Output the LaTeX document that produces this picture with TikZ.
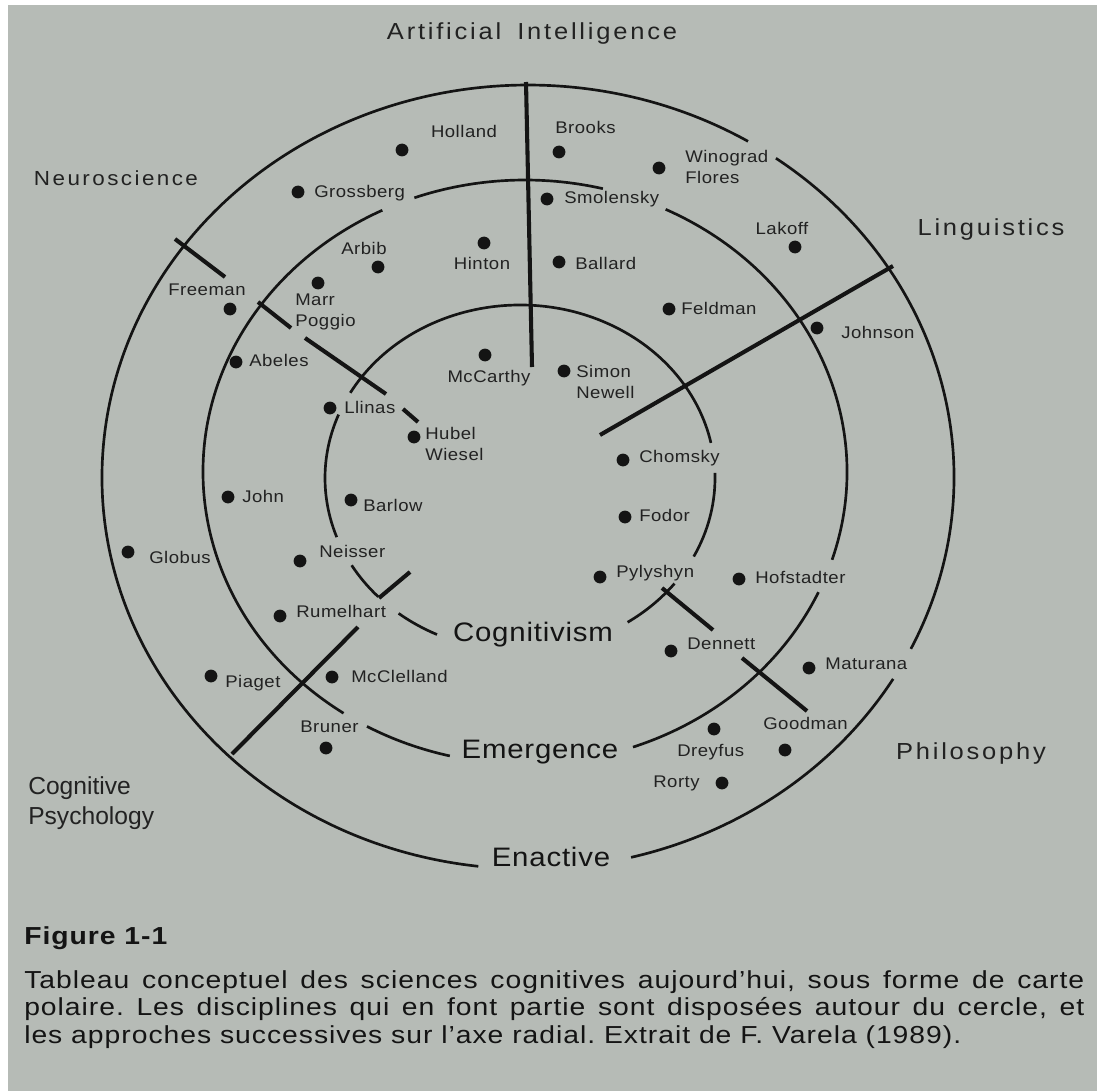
\documentclass[tikz,border=0pt]{standalone}
\usepackage{fontspec}
\setmainfont{Liberation Sans}
\newfontfamily\mapfont[FakeStretch=1.1,LetterSpace=3]{Liberation Sans}
\newfontfamily\discfont[FakeStretch=1.1,LetterSpace=12]{Liberation Sans}
\newfontfamily\capfont[FakeStretch=1.15,LetterSpace=4]{Liberation Sans}
\usepackage{xcolor}
\definecolor{paper}{RGB}{182,187,182}
\definecolor{ink}{RGB}{20,20,20}
\definecolor{lab}{RGB}{34,34,34}
\frenchspacing

\begin{document}
\begin{tikzpicture}[
    x=0.25mm, y=-0.25mm,
    ring/.style={draw=ink, line width=1.9pt},
    spoke/.style={draw=ink, line width=2.9pt},
    spot/.style={circle, fill=ink, inner sep=0pt, minimum size=3.2mm},
    who/.style={font=\mapfont\fontsize{12}{15}\selectfont, text=lab, inner sep=0pt, align=left, anchor=west},
    whoc/.style={font=\mapfont\fontsize{12}{15}\selectfont, text=lab, inner sep=0pt},
    field/.style={font=\discfont\fontsize{16.5}{20}\selectfont, text=lab, inner sep=0pt},
    stage/.style={font=\mapfont\fontsize{19}{23}\selectfont, text=ink, inner sep=0pt},
    capt/.style={font=\capfont\fontsize{17.5}{19.6}\selectfont, text=ink, inner sep=0pt}
]
% ============================================================
% PAGE
% ============================================================
\fill[paper] (0,0) rectangle (1097,1091);
\fill[white] (0,0) rectangle (1097,5);
\fill[white] (0,0) rectangle (8,1091);
\useasboundingbox (0,0) rectangle (1097,1091);

% ============================================================
% RINGS — broken where a label sits on them
% ============================================================
\coordinate (cOut) at (528,477);
\coordinate (cMid) at (525,472);
\coordinate (cIn)  at (520,478);

% enactive ring
\draw[ring] (cOut) ++(-54.4:426 and 392) arc[start angle=-54.4, end angle=26, x radius=426, y radius=392];
\draw[ring] (cOut) ++(31:426 and 392) arc[start angle=31, end angle=76, x radius=426, y radius=392];
\draw[ring] (cOut) ++(96.7:426 and 392) arc[start angle=96.7, end angle=301.1, x radius=426, y radius=392];

% emergence ring
\draw[ring] (cMid) ++(-64.1:322 and 292) arc[start angle=-64.1, end angle=17.5, x radius=322, y radius=292];
\draw[ring] (cMid) ++(24.3:322 and 292) arc[start angle=24.3, end angle=70.4, x radius=322, y radius=292];
\draw[ring] (cMid) ++(103.5:322 and 292) arc[start angle=103.5, end angle=119.4, x radius=322, y radius=292];
\draw[ring] (cMid) ++(124.3:322 and 292) arc[start angle=124.3, end angle=243.7, x radius=322, y radius=292];
\draw[ring] (cMid) ++(249.9:322 and 292) arc[start angle=249.9, end angle=284, x radius=322, y radius=292];

% cognitivism ring
\draw[ring] (cIn) ++(-1.7:195 and 173) arc[start angle=-1.7, end angle=27, x radius=195, y radius=173];
\draw[ring] (cIn) ++(37.6:195 and 173) arc[start angle=37.6, end angle=56.5, x radius=195, y radius=173];
\draw[ring] (cIn) ++(115.2:195 and 173) arc[start angle=115.2, end angle=128.5, x radius=195, y radius=173];
\draw[ring] (cIn) ++(136.6:195 and 173) arc[start angle=136.6, end angle=149.7, x radius=195, y radius=173];
\draw[ring] (cIn) ++(160:195 and 173) arc[start angle=160, end angle=201.5, x radius=195, y radius=173];
\draw[ring] (cIn) ++(209.5:195 and 173) arc[start angle=209.5, end angle=348.3, x radius=195, y radius=173];

% ============================================================
% SPOKES between the disciplines
% ============================================================
\coordinate (ai_top) at (526,82);
\coordinate (ai_end) at (532,367);
\coordinate (li_top) at (893,266);
\coordinate (li_end) at (600,435);
\coordinate (ne_1a) at (175,239);  \coordinate (ne_1b) at (225,277);
\coordinate (ne_2a) at (258,302);  \coordinate (ne_2b) at (291,328);
\coordinate (ne_3a) at (305,338);  \coordinate (ne_3b) at (386,394);
\coordinate (ne_4a) at (403,409);  \coordinate (ne_4b) at (418,422);
\coordinate (ps_1a) at (232,754);  \coordinate (ps_1b) at (358,627);
\coordinate (ps_2a) at (379,598);  \coordinate (ps_2b) at (410,572);
\coordinate (ph_1a) at (662,588);  \coordinate (ph_1b) at (713,630);
\coordinate (ph_2a) at (742,658);  \coordinate (ph_2b) at (807,711);

\draw[spoke] (ai_top) -- (ai_end);
\draw[spoke] (li_top) -- (li_end);
\draw[spoke] (ne_1a) -- (ne_1b);
\draw[spoke] (ne_2a) -- (ne_2b);
\draw[spoke] (ne_3a) -- (ne_3b);
\draw[spoke] (ne_4a) -- (ne_4b);
\draw[spoke] (ps_1a) -- (ps_1b);
\draw[spoke] (ps_2a) -- (ps_2b);
\draw[spoke] (ph_1a) -- (ph_1b);
\draw[spoke] (ph_2a) -- (ph_2b);

% ============================================================
% RESEARCHERS
% ============================================================
\node[spot] (holland_d)    at (402,150) {};
\node[spot] (brooks_d)     at (559,152) {};
\node[spot] (winograd_d)   at (659,168) {};
\node[spot] (grossberg_d)  at (298,192) {};
\node[spot] (smolensky_d)  at (547,199) {};
\node[spot] (lakoff_d)     at (795,247) {};
\node[spot] (arbib_d)      at (378,267) {};
\node[spot] (hinton_d)     at (484,243) {};
\node[spot] (ballard_d)    at (559,262) {};
\node[spot] (marr_d)       at (318,283) {};
\node[spot] (freeman_d)    at (230,309) {};
\node[spot] (feldman_d)    at (669,309) {};
\node[spot] (johnson_d)    at (817,328) {};
\node[spot] (abeles_d)     at (236,362) {};
\node[spot] (mccarthy_d)   at (485,355) {};
\node[spot] (simon_d)      at (564,371) {};
\node[spot] (llinas_d)     at (330,408) {};
\node[spot] (hubel_d)      at (414,437) {};
\node[spot] (chomsky_d)    at (623,460) {};
\node[spot] (john_d)       at (228,497) {};
\node[spot] (barlow_d)     at (351,500) {};
\node[spot] (fodor_d)      at (625,517) {};
\node[spot] (globus_d)     at (128,552) {};
\node[spot] (neisser_d)    at (300,561) {};
\node[spot] (pylyshyn_d)   at (600,577) {};
\node[spot] (hofstadter_d) at (739,579) {};
\node[spot] (rumelhart_d)  at (280,616) {};
\node[spot] (dennett_d)    at (671,651) {};
\node[spot] (maturana_d)   at (809,668) {};
\node[spot] (piaget_d)     at (211,676) {};
\node[spot] (mcclelland_d) at (332,677) {};
\node[spot] (bruner_d)     at (326,748) {};
\node[spot] (dreyfus_d)    at (714,729) {};
\node[spot] (goodman_d)    at (785,750) {};
\node[spot] (rorty_d)      at (722,783) {};

\node[whoc] (holland)    at (464,131) {Holland};
\node[who]  (brooks)     at (555,127) {Brooks};
\node[who]  (winograd)   at (685,167) {Winograd\\Flores};
\node[who]  (grossberg)  at (314,193) {Grossberg};
\node[who]  (smolensky)  at (564,199) {Smolensky};
\node[whoc] (lakoff)     at (782,228) {Lakoff};
\node[whoc] (arbib)      at (364,248) {Arbib};
\node[whoc] (hinton)     at (482,263) {Hinton};
\node[who]  (ballard)    at (575,263) {Ballard};
\node[who]  (marr)       at (295,312) {Marr\\Poggio};
\node[whoc] (freeman)    at (207,290) {Freeman};
\node[who]  (feldman)    at (681,308) {Feldman};
\node[who]  (johnson)    at (841,332) {Johnson};
\node[who]  (abeles)     at (249,360) {Abeles};
\node[whoc] (mccarthy)   at (489,378) {McCarthy};
\node[who]  (simon)      at (576,382) {Simon\\Newell};
\node[who]  (llinas)     at (344,407) {Llinas};
\node[who]  (hubel)      at (425,444) {Hubel\\Wiesel};
\node[who]  (chomsky)    at (639,458) {Chomsky};
\node[who]  (john)       at (242,496) {John};
\node[who]  (barlow)     at (363,505) {Barlow};
\node[who]  (fodor)      at (639,515) {Fodor};
\node[who]  (globus)     at (149,557) {Globus};
\node[who]  (neisser)    at (319,551) {Neisser};
\node[who]  (pylyshyn)   at (616,573) {Pylyshyn};
\node[who]  (hofstadter) at (755,577) {Hofstadter};
\node[who]  (rumelhart)  at (296,611) {Rumelhart};
\node[who]  (dennett)    at (687,644) {Dennett};
\node[who]  (maturana)   at (825,664) {Maturana};
\node[who]  (mcclelland) at (351,676) {McClelland};
\node[who]  (piaget)     at (225,683) {Piaget};
\node[who]  (goodman)    at (763,723) {Goodman};
\node[who]  (bruner)     at (300,727) {Bruner};
\node[who]  (dreyfus)    at (677,752) {Dreyfus};
\node[who]  (rorty)      at (653,783) {Rorty};

% ============================================================
% DISCIPLINES AND APPROACHES
% ============================================================
\node[field] (ai)    at (532,34)  {Artificial\hspace{4mm}Intelligence};
\node[field, font=\discfont\fontsize{14.5}{18}\selectfont] (neuro) at (116,178) {Neuroscience};
\node[field] (ling)  at (991,230) {Linguistics};
\node[field] (philo) at (971,753) {Philosophy};
\node[font=\fontsize{17.5}{21.3}\selectfont, text=lab, inner sep=0pt, align=left, anchor=west]
    (cogpsy) at (28,803) {Cognitive\\Psychology};

\node[stage] (cognitivism) at (533,635) {Cognitivism};
\node[stage] (emergence)   at (540,752) {Emergence};
\node[stage] (enactive)    at (551,857) {Enactive};

% ============================================================
% CAPTION
% ============================================================
\node[capt, anchor=west] (fig) at (24,938) {\bfseries Figure 1-1};
\node[capt, anchor=north west, text width=265mm, align=justify] (caption) at (24,970)
    {Tableau conceptuel des sciences cognitives aujourd’hui, sous forme de carte\linebreak
     polaire. Les disciplines qui en font partie sont disposées autour du cercle, et\linebreak
     les approches successives sur l’axe radial. Extrait de F. Varela (1989).};

\end{tikzpicture}
\end{document}
